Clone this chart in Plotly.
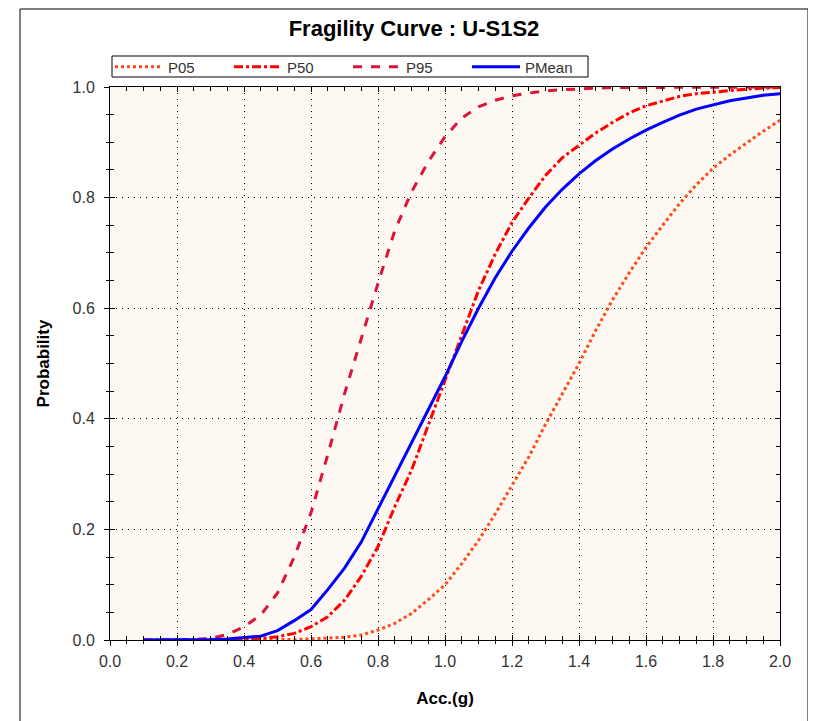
import plotly.graph_objects as go

# Fragility curve data
acc = [0.10, 0.15, 0.20, 0.25, 0.30, 0.35, 0.40, 0.45, 0.50, 0.55,
       0.60, 0.65, 0.70, 0.75, 0.80, 0.85, 0.90, 0.95, 1.00, 1.05,
       1.10, 1.15, 1.20, 1.25, 1.30, 1.35, 1.40, 1.45, 1.50, 1.55,
       1.60, 1.65, 1.70, 1.75, 1.80, 1.85, 1.90, 1.95, 2.00]

p05 = [0, 0, 0, 0, 0, 0, 0, 0.0005, 0.001, 0.001,
       0.002, 0.003, 0.005, 0.009, 0.018, 0.03, 0.048, 0.073, 0.10, 0.138,
       0.18, 0.228, 0.279, 0.331, 0.39, 0.446, 0.50, 0.56, 0.615, 0.664,
       0.71, 0.75, 0.789, 0.823, 0.853, 0.877, 0.899, 0.92, 0.94]

p50 = [0, 0, 0, 0, 0.0003, 0.0008, 0.002, 0.003, 0.006, 0.012,
       0.024, 0.042, 0.072, 0.115, 0.169, 0.241, 0.307, 0.389, 0.47, 0.553,
       0.632, 0.698, 0.755, 0.799, 0.84, 0.872, 0.895, 0.917, 0.936, 0.953,
       0.966, 0.975, 0.983, 0.988, 0.991, 0.994, 0.996, 0.998, 0.999]

p95 = [0, 0, 0.0005, 0.001, 0.003, 0.01, 0.024, 0.045, 0.085, 0.15,
       0.23, 0.335, 0.445, 0.545, 0.645, 0.74, 0.81, 0.865, 0.91, 0.944,
       0.964, 0.976, 0.984, 0.989, 0.993, 0.995, 0.997, 0.998, 0.999, 0.999,
       1.0, 1.0, 1.0, 1.0, 1.0, 1.0, 1.0, 1.0, 1.0]

pmean = [0, 0, 0.0002, 0.0005, 0.001, 0.002, 0.004, 0.007, 0.017, 0.035,
         0.055, 0.091, 0.13, 0.177, 0.237, 0.297, 0.356, 0.416, 0.476, 0.54,
         0.60, 0.655, 0.703, 0.745, 0.783, 0.815, 0.843, 0.867, 0.888, 0.906,
         0.922, 0.936, 0.949, 0.96, 0.968, 0.975, 0.98, 0.985, 0.988]

series = [
    ('P05', p05, '#FF4A1C', 'dot'),
    ('P50', p50, '#FF0000', 'dashdot'),
    ('P95', p95, '#DC143C', 'dash'),
    ('PMean', pmean, '#0000FF', 'solid'),
]

FONT = 'Liberation Sans, Arial, sans-serif'

fig = go.Figure()
for name, vals, color, dash in series:
    fig.add_trace(go.Scatter(x=acc, y=vals, name=name, mode='lines',
                             line=dict(color=color, width=3, dash=dash)))

# page has an 8px body margin; plot area should land at x 110..780, y 87..640
OFF = 8
W, H = 800, 713
L, T = 110 - OFF, 87 - OFF
pw, ph = 670, 553
R, B = W - L - pw, H - T - ph


def px_x(p):
    # page pixel -> paper x
    return (p - 110) / pw


def px_y(p):
    # page pixel -> paper y
    return (640 - p) / ph


# main axes carry the inside half of the ticks and the grid
axis_common = dict(
    range=[0, 2.0], dtick=0.2, tick0=0, tickformat='.1f',
    showline=True, linecolor='black', linewidth=1, mirror='ticks',
    ticks='inside', ticklen=5, tickcolor='black', tickwidth=1,
    showgrid=True, gridcolor='black', gridwidth=1, griddash='1px,5px',
    zeroline=False,
    tickfont=dict(family=FONT, size=16, color='#333333'),
    minor=dict(dtick=0.05, ticks='inside', ticklen=4, tickcolor='black', showgrid=False),
)

fig.update_layout(
    width=W, height=H,
    margin=dict(l=L, r=R, t=T, b=B, autoexpand=False),
    paper_bgcolor='white',
    plot_bgcolor='#FDF9F2',
    title=dict(text='<b>Fragility Curve : U-S1S2</b>', x=(414 - OFF) / W, xref='container',
               y=1 - (28 - OFF) / H, yref='container', xanchor='center', yanchor='middle',
               font=dict(family=FONT, size=22, color='black')),
    xaxis=dict(axis_common, ticklabelstandoff=7,
               title=dict(text='<b>Acc.(g)</b>', standoff=22,
                          font=dict(family=FONT, size=17, color='black'))),
    yaxis=dict(axis_common, range=[0, 1.0], ticklabelstandoff=11,
               title=dict(text='<b>Probability</b>', standoff=18,
                          font=dict(family=FONT, size=17, color='black'))),
    # overlay axes for the outside half of the ticks
    xaxis2=dict(overlaying='x', matches='x', anchor='y', side='bottom', range=[0, 2.0],
                dtick=0.2, tick0=0, ticks='outside', ticklen=5, tickcolor='black',
                showticklabels=False, showgrid=False, zeroline=False, showline=False,
                minor=dict(dtick=0.05, ticks='outside', ticklen=3, tickcolor='black')),
    yaxis2=dict(overlaying='y', matches='y', anchor='x', side='left', range=[0, 1.0],
                dtick=0.2, tick0=0, ticks='outside', ticklen=5, tickcolor='black',
                showticklabels=False, showgrid=False, zeroline=False, showline=False,
                minor=dict(dtick=0.05, ticks='outside', ticklen=3, tickcolor='black')),
    legend=dict(orientation='h', x=px_x(110), y=px_y(67),
                xanchor='left', yanchor='middle',
                borderwidth=0, bgcolor='rgba(0,0,0,0)',
                entrywidth=56, entrywidthmode='pixels',
                font=dict(family=FONT, size=15, color='#333333'),
                tracegroupgap=0, itemwidth=48),
    showlegend=True,
)

# invisible trace so the overlay axes get drawn
fig.add_trace(go.Scatter(x=[0], y=[0], xaxis='x2', yaxis='y2', mode='markers',
                         marker=dict(opacity=0), showlegend=False, hoverinfo='skip'))

# legend box
fig.add_shape(type='rect', xref='paper', yref='paper',
              x0=px_x(112), x1=px_x(588), y0=px_y(77), y1=px_y(56),
              line=dict(color='black', width=1), fillcolor='white', layer='below')

# outer frame around the whole chart
fig.add_shape(type='rect', xref='paper', yref='paper',
              x0=px_x(20), x1=px_x(808), y0=px_y(740), y1=px_y(9),
              line=dict(color='black', width=1), fillcolor='rgba(0,0,0,0)', layer='below')

fig.write_html('out.html')
